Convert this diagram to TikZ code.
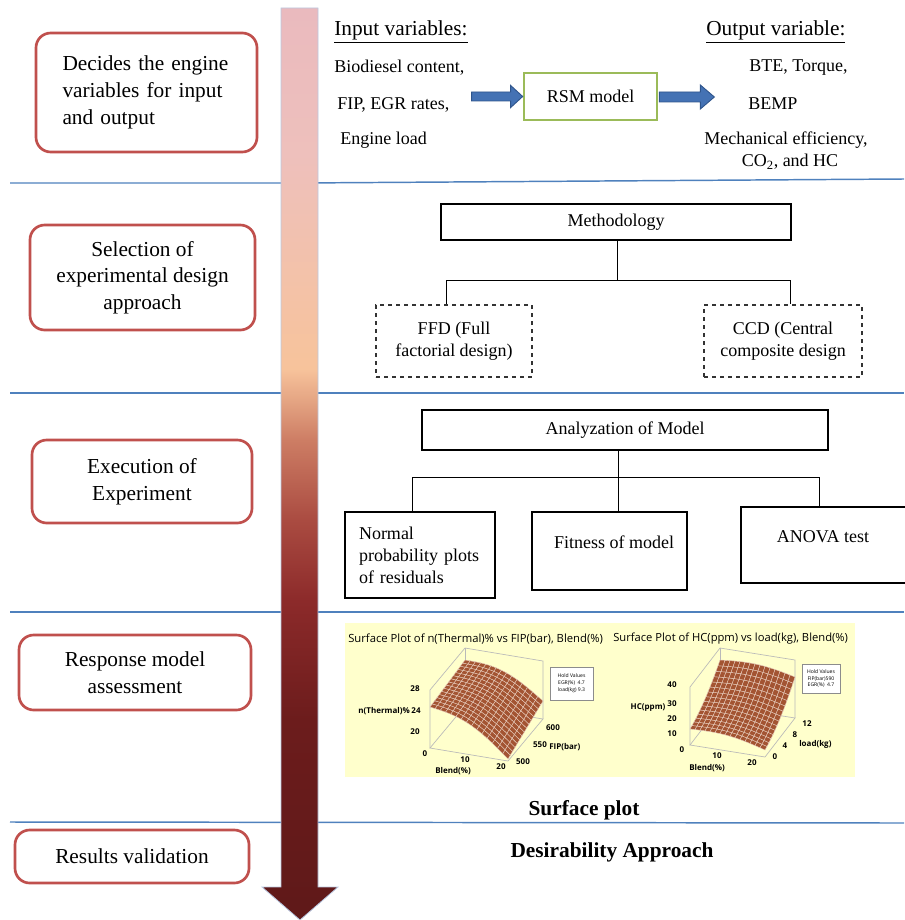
\documentclass[tikz,border=0pt]{standalone}
\usepackage{fontspec}
\usepackage{graphicx}
\setmainfont{Liberation Serif}
\newfontfamily\plotfont{Open Sans}
\usetikzlibrary{calc}
\newlength\pxu \setlength\pxu{0.75pt}
\definecolor{bline}{RGB}{79,129,189}
\definecolor{redb}{RGB}{192,80,77}
\definecolor{greenb}{RGB}{155,187,89}
\definecolor{arrblue}{RGB}{68,114,180}
\definecolor{arrblueD}{RGB}{47,85,140}
\definecolor{surfc}{RGB}{163,84,50}
\definecolor{gridc}{RGB}{232,205,190}
\definecolor{panelc}{RGB}{255,255,204}
\definecolor{wire}{RGB}{185,185,185}
\definecolor{arredge}{RGB}{185,200,225}
\definecolor{ca}{RGB}{95,25,25}
\definecolor{cb}{RGB}{108,28,28}
\definecolor{cc}{RGB}{140,42,42}
\definecolor{cd}{RGB}{170,75,65}
\definecolor{ce}{RGB}{205,125,100}
\definecolor{cf}{RGB}{247,195,155}
\definecolor{cg}{RGB}{238,192,188}
\definecolor{ch}{RGB}{234,186,190}
\pgfdeclareverticalshading{flowshade}{100bp}{color(0bp)=(ca); color(25bp)=(ca); color(36bp)=(cb); color(42.5bp)=(cc); color(46.9bp)=(cd); color(51.3bp)=(ce); color(55.2bp)=(cf); color(67bp)=(cg); color(75bp)=(ch); color(100bp)=(ch)}
\newcommand\surfpatches[2]{%
 \foreach \i in {0,...,14}{\foreach \j in {0,...,14}{%
  \pgfmathsetmacro\ua{\i/15}\pgfmathsetmacro\ub{(\i+1)/15}%
  \pgfmathsetmacro\va{\j/15}\pgfmathsetmacro\vb{(\j+1)/15}%
  \filldraw[surfpatch] ({#1(\ua,\va)},{#2(\ua,\va)}) -- ({#1(\ub,\va)},{#2(\ub,\va)}) -- ({#1(\ub,\vb)},{#2(\ub,\vb)}) -- ({#1(\ua,\vb)},{#2(\ua,\vb)}) -- cycle;
 }}}
\begin{document}
\begin{tikzpicture}[x=0.75pt,y=-0.75pt,
  declare function={
    sax(\x,\y)=430+78*\x+35*\y;
    saz(\x,\y)=41*(1-\x)*(1-\y)+46*(1-\x)*\y+2*\x*(1-\y)+18*\x*\y+9*sin(180*\x);
    say(\x,\y)=748+13*\x-42*\y-saz(\x,\y);
    sbx(\x,\y)=690+75*\x+30*\y;
    sbz(\x,\y)=16-9*\x+(30+4*\x)*(0.4*\y+0.6*\y*\y)+4*sin(180*\x);
    sby(\x,\y)=745+12*\x-39*\y-sbz(\x,\y);
  },
  hline/.style={draw=bline, line width=1.1pt},
  stage/.style={draw=redb, line width=2pt, rounded corners=11pt, fill=white, align=center, font=\fontsize{16}{20}\selectfont, inner sep=0pt},
  txt/.style={font=\fontsize{13.5}{16.5}\selectfont, inner sep=0pt},
  headtxt/.style={font=\fontsize{16}{19}\selectfont, inner sep=0pt},
  thickbox/.style={draw, line width=2.2pt, txt},
  dashbox/.style={draw=black!80, dashed, line width=0.8pt, align=center, txt},
  plainbox/.style={draw, line width=0.8pt, txt},
  conn/.style={draw, line width=0.7pt},
  wireline/.style={draw=wire, line width=0.5pt},
  surfpatch/.style={fill=surfc, draw=gridc, line width=0.3pt},
  tick/.style={font=\plotfont\bfseries\fontsize{6}{7}\selectfont, inner sep=0pt},
  legend/.style={draw=black!45, fill=white, line width=0.4pt, align=center, font=\plotfont\fontsize{3.8}{5.2}\selectfont, inner sep=1pt},
  bigbold/.style={font=\fontsize{16}{19}\selectfont\bfseries, inner sep=0pt}
]
\useasboundingbox (0,0) rectangle (904,920);

% section separators
\draw[hline] (10,183) -- (300,183) -- (904,179);
\draw[hline] (10,393) -- (904,393);
\draw[hline] (10,612) -- (904,612);
\draw[hline] (10,822) -- (904,823);

% big gradient arrow
\path[shading=flowshade, draw=arredge, line width=0.6pt] (281,8) -- (318,8) -- (318,887) -- (338,887) -- (300,920) -- (262,887) -- (281,887) -- cycle;

% left stage boxes
\node[stage, minimum width=221\pxu, minimum height=119\pxu, text width=168\pxu, align=left] (s1) at (146.5,92.5) {Decides the engine\\variables for input\\and output};
\node[stage, minimum width=225\pxu, minimum height=105\pxu] (s2) at (142.5,277.5) {Selection of\\experimental design\\approach};
\node[stage, minimum width=220\pxu, minimum height=83\pxu] (s3) at (142,481.5) {Execution of\\Experiment};
\node[stage, minimum width=232\pxu, minimum height=75\pxu] (s4) at (135,672.5) {Response model\\assessment};
\node[stage, minimum width=234\pxu, minimum height=53\pxu] (s5) at (132,856.5) {Results validation};

% section 1
\node[headtxt, anchor=west] (inv) at (334,32) {\underline{Input variables:}};
\node[headtxt, anchor=west] (outv) at (706,32) {\underline{Output variable:}};
\node[txt, anchor=west] (i1) at (334,68) {Biodiesel content,};
\node[txt, anchor=west] (i2) at (337,105) {FIP, EGR rates,};
\node[txt, anchor=west] (i3) at (340,140) {Engine load};
\node[txt, draw=greenb, line width=2pt, minimum width=133\pxu, minimum height=47\pxu] (rsm) at (590.5,96.5) {RSM model};
\node[txt, anchor=west] (o1) at (749,68) {BTE, Torque,};
\node[txt, anchor=west] (o2) at (748,104) {BEMP};
\node[txt, anchor=west] (o3) at (704,140) {Mechanical efficiency,};
\node[txt] (o4) at (790,162) {CO\textsubscript{2}, and HC};
\filldraw[fill=arrblue, draw=arrblueD, line width=0.7pt]
  ($(rsm.west)+(-51,-4.5)$) -- ($(rsm.west)+(-12,-4.5)$) -- ($(rsm.west)+(-12,-11)$) -- (rsm.west)
  -- ($(rsm.west)+(-12,11)$) -- ($(rsm.west)+(-12,4.5)$) -- ($(rsm.west)+(-51,4.5)$) -- cycle;
\filldraw[fill=arrblue, draw=arrblueD, line width=0.7pt]
  ($(rsm.east)+(1,-4.5)$) -- ($(rsm.east)+(42,-4.5)$) -- ($(rsm.east)+(42,-11.5)$) -- ($(rsm.east)+(56,0.5)$)
  -- ($(rsm.east)+(42,12.5)$) -- ($(rsm.east)+(42,5.5)$) -- ($(rsm.east)+(1,5.5)$) -- cycle;

% section 2
\node[thickbox, minimum width=350\pxu, minimum height=36\pxu] (meth) at (616,222) {Methodology};
\node[dashbox, minimum width=156\pxu, minimum height=72\pxu] (ffd) at (454,341) {FFD (Full\\factorial design)};
\node[dashbox, minimum width=158\pxu, minimum height=72\pxu] (ccd) at (783,341) {CCD (Central\\composite design};
\coordinate (mL) at (446,280);
\coordinate (mM) at (617,280);
\coordinate (mR) at (790,280);
\draw[conn] (meth.south -| mM) -- (mM);
\draw[conn] (mL) -- (mR);
\draw[conn] (mL) -- (mL |- ffd.north);
\draw[conn] (mR) -- (mR |- ccd.north);

% section 3
\node[thickbox, minimum width=406\pxu, minimum height=40\pxu] (ana) at (625,430) {Analyzation of Model};
\node[plainbox, minimum width=150\pxu, minimum height=86\pxu, text width=122\pxu, align=left] (npp) at (420,555) {Normal\\probability plots\\of residuals};
\node[plainbox, minimum width=155\pxu, minimum height=78\pxu] (fit) at (609.5,551) {};
\node[txt] (fitt) at (614,542) {Fitness of model};
\node[plainbox, minimum width=175\pxu, minimum height=76\pxu] (anova) at (828.5,545) {};
\node[txt] (anovat) at (823,537) {ANOVA test};
\coordinate (aL) at (412,477);
\coordinate (aM) at (618,477);
\coordinate (aR) at (819,477);
\draw[conn] (ana.south -| aM) -- (aM |- fit.north);
\draw[conn] (aL) -- (aR);
\draw[conn] (aL) -- (aL |- npp.north);
\draw[conn] (aR) -- (aR |- anova.north);

% section 4: surface plots panel
\node[fill=panelc, minimum width=510\pxu, minimum height=154\pxu, inner sep=0pt] (panel) at (600,700) {};
\node[anchor=west, inner sep=0pt] (p1title) at (348,639) {\resizebox{191pt}{!}{\plotfont Surface Plot of n(Thermal)\% vs FIP(bar), Blend(\%)}};
\node[anchor=west, inner sep=0pt] (p2title) at (613,639) {\resizebox{176pt}{!}{\plotfont Surface Plot of HC(ppm) vs load(kg), Blend(\%)}};

% plot 1 wireframe
\draw[wireline] (430,748) -- (508,761) -- (543,719) -- (465,706) -- cycle;
\draw[wireline] (430,748) -- (430,690) -- (465,648) -- (543,661) -- (543,719);
\draw[wireline] (465,706) -- (465,648);
\surfpatches{sax}{say}
\node[tick] (p1z28) at (415,689) {28};
\node[tick] (p1z24) at (416,711) {24};
\node[tick] (p1z20) at (415,732) {20};
\node[tick, anchor=east] (p1zl) at (410,711) {n(Thermal)\%};
\node[tick] (p1b0) at (425,754) {0};
\node[tick] (p1b10) at (465,760) {10};
\node[tick] (p1b20) at (501,767) {20};
\node[tick] (p1bl) at (453,771) {Blend(\%)};
\node[tick] (p1f600) at (553,728) {600};
\node[tick] (p1f550) at (540,745) {550};
\node[tick] (p1f500) at (523,762) {500};
\node[tick, anchor=west] (p1fl) at (549,747) {FIP(bar)};
\node[legend, minimum width=43\pxu, minimum height=33\pxu] (p1leg) at (571.5,683.5) {Hold Values\\EGR(\%)\ \ 4.7\\load(kg) 9.3};

% plot 2 wireframe
\draw[wireline] (690,745) -- (765,757) -- (795,718) -- (720,706) -- cycle;
\draw[wireline] (690,745) -- (690,687) -- (720,648) -- (795,660) -- (795,718);
\draw[wireline] (720,706) -- (720,648);
\surfpatches{sbx}{sby}
\node[tick] (p2z40) at (672,685) {40};
\node[tick] (p2z30) at (672,704) {30};
\node[tick] (p2z20) at (672,719) {20};
\node[tick] (p2z10) at (672,734) {10};
\node[tick] (p2zl) at (648,708) {HC(ppm)};
\node[tick] (p2b0) at (682,750) {0};
\node[tick] (p2b10) at (717,756) {10};
\node[tick] (p2b20) at (752,763) {20};
\node[tick] (p2bl) at (707,768) {Blend(\%)};
\node[tick] (p2l0) at (775,757) {0};
\node[tick] (p2l4) at (785,746) {4};
\node[tick] (p2l8) at (795,735) {8};
\node[tick] (p2l12) at (807,724) {12};
\node[tick, anchor=west] (p2ll) at (799,744) {load(kg)};
\node[legend, minimum width=38\pxu, minimum height=29\pxu] (p2leg) at (821,678.5) {Hold Values\\FIP(bar)590\\EGR(\%)\ \ 4.7};

% bottom labels
\node[bigbold] (surfl) at (584,810) {Surface plot};
\node[bigbold] (desl) at (612,852) {Desirability Approach};
\end{tikzpicture}
\end{document}
